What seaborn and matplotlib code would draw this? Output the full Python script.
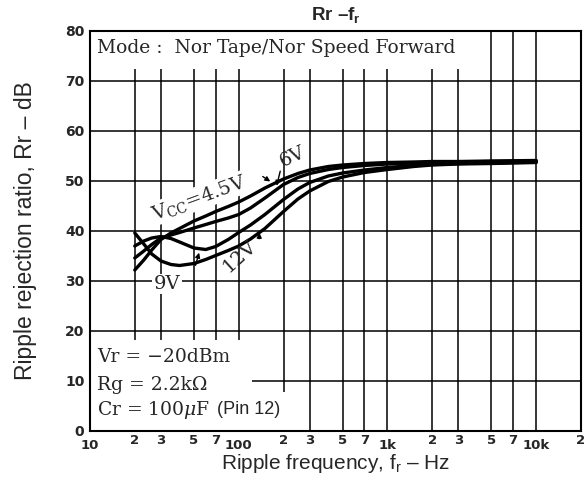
import pandas as pd
import matplotlib
matplotlib.use("Agg")
import matplotlib.pyplot as plt
import seaborn as sns

# Ripple rejection vs. ripple frequency for four supply voltages
freq_hz = [20, 23, 26, 30, 35, 40, 50, 60, 70, 85, 100, 120, 150, 200, 250,
           300, 400, 500, 700, 1000, 1500, 2000, 3000, 5000, 10000]
rr_vcc_4v5 = [32.2, 34.2, 36.2, 38.3, 39.6, 40.5, 42.0, 43.0, 43.9, 44.9, 45.8, 47.0, 48.6, 50.4, 51.5,
              52.2, 52.9, 53.2, 53.5, 53.7, 53.8, 53.9, 53.9, 54.0, 54.1]
rr_vcc_6v = [34.6, 36.0, 37.3, 38.6, 39.2, 39.7, 40.6, 41.3, 41.9, 42.6, 43.3, 44.6, 46.6, 49.3, 50.7,
             51.5, 52.3, 52.7, 53.1, 53.4, 53.6, 53.7, 53.8, 53.9, 54.0]
rr_vcc_9v = [37.0, 38.0, 38.6, 38.9, 38.5, 37.8, 36.6, 36.3, 36.9, 38.3, 39.7, 41.2, 43.3, 46.3, 48.4,
             49.7, 51.0, 51.6, 52.2, 52.7, 53.1, 53.3, 53.5, 53.6, 53.8]
rr_vcc_12v = [39.6, 37.4, 35.4, 34.0, 33.3, 33.1, 33.5, 34.3, 35.1, 36.1, 37.0, 38.4, 40.5, 43.9, 46.4,
              48.0, 49.9, 50.8, 51.7, 52.3, 52.9, 53.2, 53.4, 53.5, 53.7]
supply_labels = ["4.5V", "6V", "9V", "12V"]

x_major = [10, 100, 1000, 10000]
x_major_labels = ["10", "100", "1k", "10k"]
x_minor = [20, 30, 50, 70, 200, 300, 500, 700, 2000, 3000, 5000, 7000, 20000]
x_minor_labels = ["2", "3", "5", "7", "2", "3", "5", "7", "2", "3", "5", "7", "2"]
y_ticks = [0, 10, 20, 30, 40, 50, 60, 70, 80]

frames = []
for label, values in zip(supply_labels, [rr_vcc_4v5, rr_vcc_6v, rr_vcc_9v, rr_vcc_12v]):
    frames.append(pd.DataFrame({"freq": freq_hz, "rr": values, "vcc": label}))
df = pd.concat(frames, ignore_index=True)

sns.set_style("white")
plt.rcParams["font.family"] = ["Liberation Sans", "DejaVu Sans"]
plt.rcParams["mathtext.fontset"] = "custom"
plt.rcParams["mathtext.rm"] = "DejaVu Serif"
plt.rcParams["mathtext.it"] = "DejaVu Serif:italic"
plt.rcParams["mathtext.sf"] = "Liberation Sans"
plt.rcParams["mathtext.bf"] = "Liberation Sans:bold"

fig = plt.figure(figsize=(5.86, 4.79), dpi=100)
ax = fig.add_axes([90 / 586, 48 / 479, 491 / 586, 400 / 479])
ax.set_xscale("log")
ax.set_xlim(10, 20000)
ax.set_ylim(0, 80)

# Grid segments, broken where the printed notes sit
grid_kw = dict(colors="black", linewidth=1.1, zorder=1)
for f in [20, 30, 50, 70, 100]:
    ax.vlines(f, 18.2, 72.5, **grid_kw)
ax.vlines(200, 7.8, 72.5, **grid_kw)
for f in [300, 500, 700, 1000, 2000, 3000]:
    ax.vlines(f, 0, 72.5, **grid_kw)
for f in [5000, 7000, 10000]:
    ax.vlines(f, 0, 80, **grid_kw)
ax.hlines(10, 122, 20000, **grid_kw)
for level in [20, 30, 40, 60, 70]:
    ax.hlines(level, 10, 20000, **grid_kw)
ax.hlines(50, 10, 50, **grid_kw)
ax.hlines(50, 215, 20000, **grid_kw)

sns.lineplot(data=df, x="freq", y="rr", hue="vcc", palette=["black"] * 4,
             estimator=None, sort=False, legend=False, linewidth=2.4, ax=ax, zorder=3)

for side in ["left", "right", "top", "bottom"]:
    ax.spines[side].set_visible(True)
    ax.spines[side].set_color("black")
    ax.spines[side].set_linewidth(1.5)

ax.set_xticks(x_major)
ax.set_xticklabels(x_major_labels)
ax.set_xticks(x_minor, minor=True)
ax.set_xticklabels(x_minor_labels, minor=True)
ax.tick_params(axis="x", which="major", length=2, width=1, pad=3.5, labelsize=9.5)
ax.tick_params(axis="x", which="minor", length=2, width=1, pad=0, labelsize=9.5)
ax.set_yticks(y_ticks)
ax.tick_params(axis="y", length=0, pad=4, labelsize=10)
for lab in ax.get_xticklabels(minor=True) + ax.get_xticklabels() + ax.get_yticklabels():
    lab.set_fontweight("bold")
    lab.set_family(["DejaVu Sans"])

ax.set_xlabel(r"Ripple frequency, f$_\mathsf{r}$ – Hz", fontsize=15, labelpad=0)
ax.set_ylabel("Ripple rejection ratio, Rr – dB", fontsize=16.5, labelpad=20)
ax.set_title(r"Rr –f$_\mathbf{r}$", fontsize=13.5, fontweight="bold", pad=8)

serif = ["DejaVu Serif"]
ax.text(11.1, 76.6, "Mode :  Nor Tape/Nor Speed Forward", family=serif,
        fontsize=13.5, va="center", ha="left", zorder=4)
ax.text(11.1, 14.8, "Vr = −20dBm", family=serif, fontsize=13.5, va="center", zorder=4)
ax.text(11.1, 9.2, "Rg = 2.2kΩ", family=serif, fontsize=13.5, va="center", zorder=4)
ax.text(11.1, 4.2, r"Cr = 100$\mu$F", family=serif, fontsize=13.5, va="center", zorder=4)
ax.text(71, 4.2, "(Pin 12)", fontsize=13, va="center", zorder=4)

white_box = dict(facecolor="white", edgecolor="none", pad=1)
ax.text(54, 46.6, r"V$_\mathrm{CC}$=4.5V", family=serif, fontsize=14, rotation=20,
        ha="center", va="center", bbox=white_box, zorder=2)
ax.text(232, 54.8, "6V", family=serif, fontsize=14, rotation=25,
        ha="center", va="center", zorder=4)
ax.text(33, 29.4, "9V", family=serif, fontsize=14,
        ha="center", va="center", bbox=white_box, zorder=2)
ax.text(101, 35.0, "12V", family=serif, fontsize=14, rotation=42,
        ha="center", va="center", zorder=4)

arrow_kw = dict(arrowstyle="-|>", color="black", lw=1.0, mutation_scale=7)
ax.annotate("", xy=(169, 49.6), xytext=(140, 51.2), arrowprops=arrow_kw, zorder=4)
ax.annotate("", xy=(178, 48.5), xytext=(192, 52.5), arrowprops=arrow_kw, zorder=4)
ax.annotate("", xy=(54.8, 36.2), xytext=(50.6, 32.6), arrowprops=arrow_kw, zorder=4)
ax.annotate("", xy=(138, 40.2), xytext=(137, 37.9), arrowprops=arrow_kw, zorder=4)

fig.savefig("out.png", dpi=100, facecolor="white")
